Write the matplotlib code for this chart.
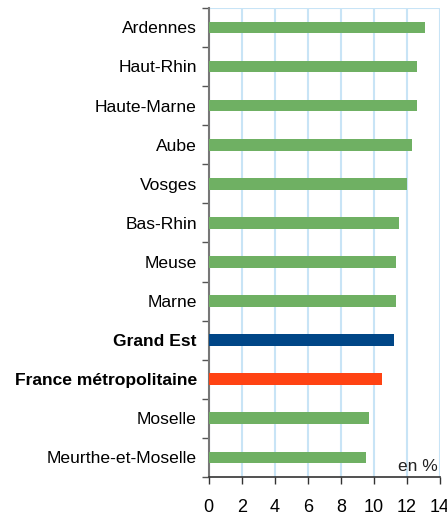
import numpy as np
import matplotlib.pyplot as plt

plt.rcParams['font.family'] = ['Liberation Sans', 'DejaVu Sans']

# données (taux en %)
categories = ['Ardennes', 'Haut-Rhin', 'Haute-Marne', 'Aube', 'Vosges', 'Bas-Rhin',
              'Meuse', 'Marne', 'Grand Est', 'France métropolitaine', 'Moselle',
              'Meurthe-et-Moselle']
values = [13.1, 12.6, 12.6, 12.3, 12.0, 11.5, 11.35, 11.35, 11.2, 10.5, 9.7, 9.5]
bold_labels = ['Grand Est', 'France métropolitaine']
xticks = [0, 2, 4, 6, 8, 10, 12, 14]

green = '#6FB063'
blue = '#004687'
red = '#FF4313'
colors = [blue if c == 'Grand Est' else red if c == 'France métropolitaine' else green
          for c in categories]

fig = plt.figure(figsize=(4.47, 5.23), dpi=100)
ax = fig.add_axes([0.467, 0.088, 0.517, 0.897])

y = np.arange(len(categories))
ax.barh(y, values, height=0.3, color=colors, zorder=3)

ax.set_ylim(len(categories) - 0.5, -0.5)
ax.set_xlim(0, 14)
ax.set_xticks(xticks)
ax.set_xticklabels([str(t) for t in xticks], fontsize=13,
                   family=['Liberation Sans Narrow', 'Liberation Sans'])
ax.tick_params(axis='x', length=5, width=1, color='#333333', pad=11)

# ticks aux limites des catégories, libellés au centre
ax.set_yticks(np.arange(len(categories) + 1) - 0.5)
ax.set_yticklabels([])
ax.set_yticks(y, minor=True)
ax.set_yticklabels(categories, minor=True, fontsize=12.6)
ax.tick_params(axis='y', which='major', length=5, width=1, color='#555555')
ax.tick_params(axis='y', which='minor', length=0, pad=8.5)
for lab in ax.get_yticklabels(minor=True):
    if lab.get_text() in bold_labels:
        lab.set_fontweight('bold')

ax.grid(axis='x', color='#C8E4F6', linewidth=1.5, zorder=0)
for s in ['top', 'right']:
    ax.spines[s].set_visible(False)
ax.axhline(-0.5, color='#C8E4F6', linewidth=1.5, zorder=0)
ax.spines['left'].set_color('#777777')
ax.spines['left'].set_linewidth(1.5)
ax.spines['bottom'].set_color('#333333')
ax.spines['bottom'].set_linewidth(1.2)

ax.text(13.85, 11.42, 'en %', ha='right', va='bottom', fontsize=12.5,
        family=['Liberation Sans Narrow', 'Liberation Sans'], color='#222222')

fig.savefig('out.png', dpi=100)
